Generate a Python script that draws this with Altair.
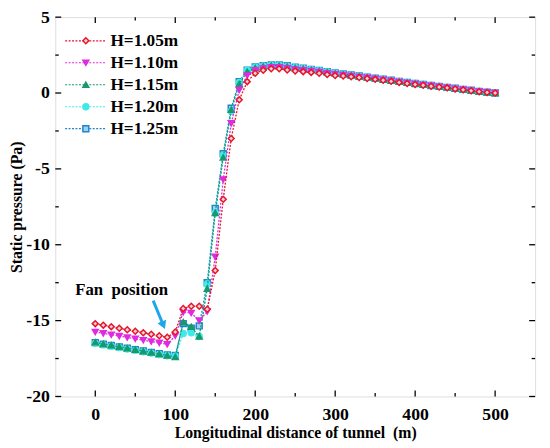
import altair as alt
import pandas as pd

# ---------------- data ----------------
x_m = list(range(0, 501, 10))

h105 = [-15.2, -15.3, -15.4, -15.5, -15.6, -15.7, -15.8, -15.9, -16.0, -16.1,
        -15.75, -14.2, -14.05, -14.05, -14.25,
        -11.7, -7.0, -3.0, -0.45, 0.75,
        1.3, 1.5, 1.6, 1.6, 1.52,
        1.45, 1.41, 1.36, 1.3, 1.22,
        1.15, 1.12, 1.07, 1.02, 0.96,
        0.9, 0.84, 0.77, 0.7, 0.63,
        0.56, 0.51, 0.45, 0.4, 0.34,
        0.27, 0.21, 0.15, 0.09, 0.04, 0.0]

h110 = [-15.75, -15.84, -15.93, -16.02, -16.11, -16.2, -16.29, -16.38, -16.47, -16.56,
        -16.0, -14.45, -14.5, -15.0, -14.4,
        -10.8, -5.7, -2.0, 0.2, 1.15,
        1.5, 1.62, 1.7, 1.7, 1.63,
        1.55, 1.5, 1.44, 1.38, 1.3,
        1.23, 1.18, 1.12, 1.06, 1.0,
        0.94, 0.87, 0.8, 0.73, 0.66,
        0.59, 0.53, 0.47, 0.41, 0.35,
        0.28, 0.22, 0.16, 0.1, 0.05, 0.0]

h115 = [-16.43, -16.53, -16.62, -16.72, -16.82, -16.91, -17.01, -17.1, -17.2, -17.3,
        -17.4, -15.1, -15.4, -16.05, -12.9,
        -7.9, -4.25, -1.1, 0.6, 1.4,
        1.65, 1.75, 1.8, 1.8, 1.75,
        1.66, 1.6, 1.53, 1.46, 1.38,
        1.3, 1.24, 1.17, 1.1, 1.04,
        0.97, 0.9, 0.83, 0.76, 0.69,
        0.62, 0.56, 0.5, 0.43, 0.37,
        0.3, 0.24, 0.17, 0.11, 0.05, 0.0]

h120 = [-16.5, -16.6, -16.69, -16.78, -16.87, -16.96, -17.05, -17.14, -17.23, -17.32,
        -17.35, -15.85, -15.8, -16.05, -12.6,
        -7.9, -4.1, -1.2, 0.7, 1.5,
        1.7, 1.78, 1.83, 1.83, 1.77,
        1.68, 1.62, 1.55, 1.48, 1.4,
        1.32, 1.25, 1.18, 1.11, 1.05,
        0.98, 0.91, 0.84, 0.77, 0.7,
        0.63, 0.57, 0.5, 0.44, 0.37,
        0.31, 0.24, 0.18, 0.11, 0.05, 0.0]

h125 = [-16.45, -16.55, -16.64, -16.73, -16.82, -16.91, -17.0, -17.09, -17.18, -17.27,
        -17.3, -15.2, -15.5, -15.35, -12.5,
        -7.6, -4.0, -1.0, 0.75, 1.5,
        1.72, 1.8, 1.85, 1.85, 1.8,
        1.7, 1.63, 1.56, 1.49, 1.41,
        1.33, 1.26, 1.19, 1.12, 1.05,
        0.98, 0.91, 0.84, 0.77, 0.7,
        0.63, 0.57, 0.5, 0.44, 0.37,
        0.31, 0.24, 0.18, 0.11, 0.05, 0.0]

labels = ["H=1.05m", "H=1.10m", "H=1.15m", "H=1.20m", "H=1.25m"]
colors = ["#e3162c", "#e02ae0", "#169a6c", "#3eeaea", "#1f86cc"]
shapes = ["diamond", "triangle-down", "triangle-up", "circle", "square"]
fills = ["#fbd0d4", "#e02ae0", "#169a6c", "#3eeaea", "#9fd0f0"]
values = [h105, h110, h115, h120, h125]

x_major = [0, 100, 200, 300, 400, 500]
x_minor = [50, 150, 250, 350, 450]
y_major = [-20, -15, -10, -5, 0, 5]
y_minor = [-17.5, -12.5, -7.5, -2.5, 2.5]

fan_text = "Fan\u00a0 position"
fan_text_xy = (33, -13.0)
arrow_x = [72.4, 84.5]
arrow_y = [-13.68, -15.22]

# ---------------- chart ----------------
W, H = 487, 385
FONT = "Liberation Serif"
xs = alt.Scale(domain=[-50, 550], nice=False, zero=False)
ys = alt.Scale(domain=[-20, 5], nice=False, zero=False)

xaxis = alt.Axis(values=x_major, ticks=False, domain=False, grid=False,
                 labelFont=FONT, labelFontSize=18, labelFontWeight="bold", labelColor="black",
                 labelPadding=9, labelExpr="datum.value + ''",
                 title="Longitudinal distance of tunnel\u00a0 (m)", titleFont=FONT,
                 titleFontSize=16, titleFontWeight="bold", titleColor="black", titlePadding=2)
yaxis = alt.Axis(values=y_major, ticks=False, domain=False, grid=False,
                 labelFont=FONT, labelFontSize=18, labelFontWeight="bold", labelColor="black",
                 labelPadding=6, labelExpr="datum.value + ''",
                 title="Static pressure (Pa)", titleFont=FONT,
                 titleFontSize=16, titleFontWeight="bold", titleColor="black", titlePadding=1)

layers = []

# base layer carrying the axes
base_df = pd.DataFrame({"x": x_m, "y": h105})
layers.append(alt.Chart(base_df).mark_point(opacity=0).encode(
    x=alt.X("x:Q", scale=xs, axis=xaxis),
    y=alt.Y("y:Q", scale=ys, axis=yaxis)))

# series, drawn so that H=1.05m ends on top
for lab, vals, col, shp, fil in reversed(list(zip(labels, values, colors, shapes, fills))):
    df = pd.DataFrame({"x": x_m, "y": vals})
    enc = dict(x=alt.X("x:Q", scale=xs), y=alt.Y("y:Q", scale=ys))
    layers.append(alt.Chart(df).mark_line(color=col, strokeWidth=1.3, strokeDash=[2, 1.5]).encode(**enc))
    layers.append(alt.Chart(df).mark_point(shape=shp, filled=True, fill=fil, stroke=col,
                                           strokeWidth=1.5, size=36, opacity=1).encode(**enc))

# inward ticks (all four sides)
def xticks(vals, length):
    d = pd.DataFrame({"v": vals})
    bot = alt.Chart(d).mark_rule(color="black", strokeWidth=1.3).encode(
        x=alt.X("v:Q", scale=xs), y=alt.value(H), y2=alt.value(H - length))
    top = alt.Chart(d).mark_rule(color="black", strokeWidth=1.3).encode(
        x=alt.X("v:Q", scale=xs), y=alt.value(0), y2=alt.value(length))
    return [bot, top]

def yticks(vals, length):
    d = pd.DataFrame({"v": vals})
    lft = alt.Chart(d).mark_rule(color="black", strokeWidth=1.3).encode(
        y=alt.Y("v:Q", scale=ys), x=alt.value(0), x2=alt.value(length))
    rgt = alt.Chart(d).mark_rule(color="black", strokeWidth=1.3).encode(
        y=alt.Y("v:Q", scale=ys), x=alt.value(W), x2=alt.value(W - length))
    return [lft, rgt]

layers += xticks(x_major, 6) + xticks(x_minor, 3.5) + yticks(y_major, 6) + yticks(y_minor, 3.5)

# annotation
ann_df = pd.DataFrame({"x": [arrow_x[0]], "y": [arrow_y[0]], "x2": [arrow_x[1]], "y2": [arrow_y[1]]})
layers.append(alt.Chart(ann_df).mark_rule(color="#1ea6ea", strokeWidth=3).encode(
    x=alt.X("x:Q", scale=xs), y=alt.Y("y:Q", scale=ys), x2="x2:Q", y2="y2:Q"))
head_df = pd.DataFrame({"x": [arrow_x[1]], "y": [arrow_y[1]]})
layers.append(alt.Chart(head_df).mark_point(shape="triangle", angle=157, filled=True,
                                            color="#1ea6ea", size=90, opacity=1).encode(
    x=alt.X("x:Q", scale=xs), y=alt.Y("y:Q", scale=ys)))
txt_df = pd.DataFrame({"x": [fan_text_xy[0]], "y": [fan_text_xy[1]], "t": [fan_text]})
layers.append(alt.Chart(txt_df).mark_text(font=FONT, fontSize=17, fontWeight="bold",
                                          color="black", align="center", baseline="middle").encode(
    x=alt.X("x:Q", scale=xs), y=alt.Y("y:Q", scale=ys), text="t:N"))

# legend
for i, (lab, col, shp, fil) in enumerate(zip(labels, colors, shapes, fills)):
    yy = 24 + i * 22.3
    d = pd.DataFrame({"t": [lab]})
    layers.append(alt.Chart(d).mark_rule(color=col, strokeWidth=1.2, strokeDash=[2, 1.5]).encode(
        x=alt.value(10), x2=alt.value(51), y=alt.value(yy)))
    layers.append(alt.Chart(d).mark_point(shape=shp, filled=True, fill=fil, stroke=col,
                                          strokeWidth=1.5, size=36, opacity=1).encode(
        x=alt.value(31), y=alt.value(yy)))
    layers.append(alt.Chart(d).mark_text(font=FONT, fontSize=17.5, fontWeight="bold", color="black",
                                         align="left", baseline="middle").encode(
        x=alt.value(56), y=alt.value(yy), text="t:N"))

chart = alt.layer(*layers).properties(
    width=W, height=H,
    autosize=alt.AutoSizeParams(type="none"),
    padding={"left": 48, "top": 6, "right": 7, "bottom": 49},
).configure_view(stroke="black", strokeWidth=1.5).configure(background="white")

chart.save("out.html", embed_options={"renderer": "svg", "actions": False})
